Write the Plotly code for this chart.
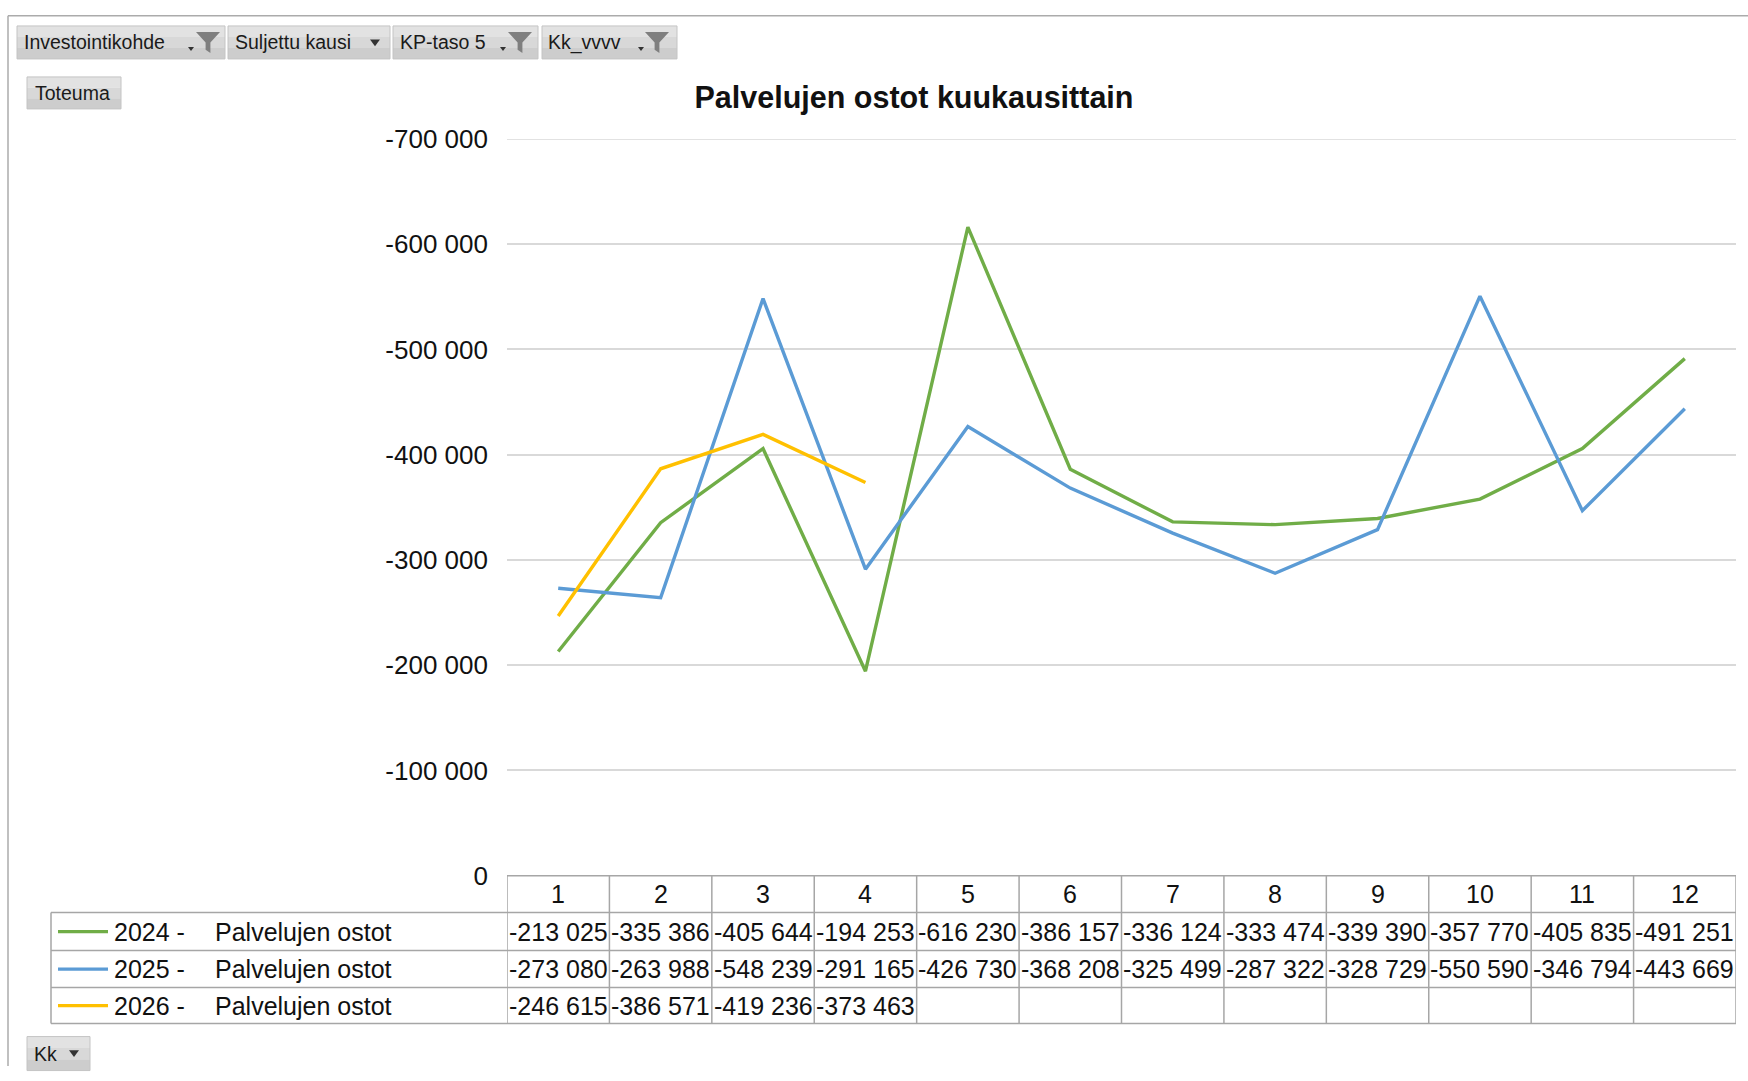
import plotly.graph_objects as go

# ---------------- data ----------------
months = [1, 2, 3, 4, 5, 6, 7, 8, 9, 10, 11, 12]
series_years = ["2024 -", "2025 -", "2026 -"]
series_label = "Palvelujen ostot"
vals_2024 = [-213025, -335386, -405644, -194253, -616230, -386157, -336124, -333474, -339390, -357770, -405835, -491251]
vals_2025 = [-273080, -263988, -548239, -291165, -426730, -368208, -325499, -287322, -328729, -550590, -346794, -443669]
vals_2026 = [-246615, -386571, -419236, -373463]
series_values = [vals_2024, vals_2025, vals_2026]
series_colors = ["#70AD47", "#5B9BD5", "#FFC000"]
y_tick_vals = [0, -100000, -200000, -300000, -400000, -500000, -600000, -700000]
y_tick_labels = ["0", "-100 000", "-200 000", "-300 000", "-400 000", "-500 000", "-600 000", "-700 000"]
title_text = "Palvelujen ostot kuukausittain"
filter_buttons = ["Investointikohde", "Suljettu kausi", "KP-taso 5", "Kk_vvvv"]

W, H = 1748, 1081
FONT = "Liberation Sans, Arial, sans-serif"
BTN_FONT = "Liberation Sans, Arial, sans-serif"

# vertical calibration of the rendered page (screen = K*y + C)
K_Y, C_Y = 0.9726, 14.05


def px(x):
    return x / W


def py(y):
    return 1 - ((y - C_Y) / K_Y) / H


PLOT_L, PLOT_R, PLOT_T, PLOT_B = 507, 1736, 138, 875
ROWS = [875, 912, 950, 987, 1023]
LEG_L = 51

fig = go.Figure()
for yr, vals, col in zip(series_years, series_values, series_colors):
    fig.add_trace(go.Scatter(
        x=months[:len(vals)], y=vals, mode="lines", name=f"{yr} {series_label}",
        line=dict(color=col, width=3.4), showlegend=False,
    ))

shapes = []
annotations = []

# top gridline at the axis maximum
shapes.append(dict(type="line", xref="paper", yref="y", x0=px(PLOT_L), x1=px(PLOT_R),
                   y0=y_tick_vals[-1], y1=y_tick_vals[-1], line=dict(color="#D9D9D9", width=1.5),
                   layer="below"))

# outer frame
top_frame = min(py(9), 0.9993)
shapes.append(dict(type="line", xref="paper", yref="paper", x0=px(8), x1=px(W), y0=top_frame, y1=top_frame,
                   line=dict(color="#ABABAB", width=1.5)))
shapes.append(dict(type="line", xref="paper", yref="paper", x0=px(8), x1=px(8), y0=top_frame, y1=0,
                   line=dict(color="#ABABAB", width=1.5)))

# data table grid
GRID = "#A6A6A6"
shapes.append(dict(type="line", xref="x", yref="paper", x0=months[0] - 0.5, x1=months[-1] + 0.5,
                   y0=py(ROWS[0]), y1=py(ROWS[0]), line=dict(color=GRID, width=1.5)))
for r in ROWS[1:]:
    shapes.append(dict(type="line", xref="paper", yref="paper", x0=px(LEG_L), x1=px(PLOT_R),
                       y0=py(r), y1=py(r), line=dict(color=GRID, width=1.5)))
for m in months + [months[-1] + 1]:
    shapes.append(dict(type="line", xref="x", yref="paper", x0=m - 0.5, x1=m - 0.5,
                       y0=py(ROWS[0]), y1=py(ROWS[-1]), line=dict(color=GRID, width=1.5)))
shapes.append(dict(type="line", xref="paper", yref="paper", x0=px(LEG_L), x1=px(LEG_L),
                   y0=py(ROWS[1]), y1=py(ROWS[-1]), line=dict(color=GRID, width=1.5)))

TXT = "#111111"
for m in months:
    annotations.append(dict(x=m, xref="x", y=py((ROWS[0] + ROWS[1]) / 2), yref="paper",
                            text=str(m), showarrow=False, xanchor="center", yanchor="middle",
                            font=dict(family=FONT, size=25, color=TXT)))
for i, (yr, vals, col) in enumerate(zip(series_years, series_values, series_colors)):
    yc = py((ROWS[i + 1] + ROWS[i + 2]) / 2)
    for m, v in zip(months, vals):
        annotations.append(dict(x=m, xref="x", y=yc, yref="paper",
                                text=f"{v:,}".replace(",", " "), showarrow=False,
                                xanchor="center", yanchor="middle",
                                font=dict(family=FONT, size=25, color=TXT)))
    shapes.append(dict(type="line", xref="paper", yref="paper", x0=px(58), x1=px(108), y0=yc, y1=yc,
                       line=dict(color=col, width=3.4)))
    annotations.append(dict(x=px(112), xref="paper", y=yc, yref="paper", text=yr, showarrow=False,
                            xanchor="left", yanchor="middle", font=dict(family=FONT, size=25, color=TXT)))
    annotations.append(dict(x=px(213), xref="paper", y=yc, yref="paper", text=series_label, showarrow=False,
                            xanchor="left", yanchor="middle", font=dict(family=FONT, size=25, color=TXT)))


def button(x0, x1, y0, y1, text, tx, size=19.5):
    # light-to-dark vertical shading
    shades = ["#E2E2E2", "#D8D8D8", "#CDCDCD"]
    n = len(shades)
    for k, c in enumerate(shades):
        ya = y0 + (y1 - y0) * k / n
        yb = y0 + (y1 - y0) * (k + 1) / n
        shapes.append(dict(type="rect", xref="paper", yref="paper", x0=px(x0), x1=px(x1), y0=py(ya), y1=py(yb),
                           fillcolor=c, line=dict(width=0), layer="below"))
    shapes.append(dict(type="rect", xref="paper", yref="paper", x0=px(x0), x1=px(x1), y0=py(y0), y1=py(y1),
                       fillcolor="rgba(0,0,0,0)", line=dict(color="#C4C4C4", width=1), layer="below"))
    annotations.append(dict(x=px(tx), xref="paper", y=py((y0 + y1) / 2), yref="paper", text=text,
                            showarrow=False, xanchor="left", yanchor="middle",
                            font=dict(family=BTN_FONT, size=size, color="#1A1A1A")))


def funnel(x0, y0, w, h):
    pts = [(x0, y0), (x0 + w, y0), (x0 + 0.6 * w, y0 + 0.5 * h), (x0 + 0.6 * w, y0 + h),
           (x0 + 0.4 * w, y0 + 0.85 * h), (x0 + 0.4 * w, y0 + 0.5 * h)]
    path = "M " + " L ".join(f"{px(a):.5f},{py(b):.5f}" for a, b in pts) + " Z"
    shapes.append(dict(type="path", xref="paper", yref="paper", path=path,
                       fillcolor="#7F7F7F", line=dict(width=0)))


def tri(xc, yc, w):
    pts = [(xc - w / 2, yc - w / 3), (xc + w / 2, yc - w / 3), (xc, yc + w / 3)]
    path = "M " + " L ".join(f"{px(a):.5f},{py(b):.5f}" for a, b in pts) + " Z"
    shapes.append(dict(type="path", xref="paper", yref="paper", path=path,
                       fillcolor="#333333", line=dict(width=0)))


btn_geom = [(17, 225, 22), (228, 390, 233), (393, 538, 398), (542, 677, 546)]
for (bx0, bx1, tx), label in zip(btn_geom, filter_buttons):
    button(bx0, bx1, 25, 58, label, tx)
funnel(196, 31, 24, 21)
tri(191, 48, 6)
tri(375, 42, 10)
funnel(508, 31, 24, 21)
tri(503, 48, 6)
funnel(645, 31, 24, 21)
tri(641, 48, 6)

button(27, 121, 76, 108, "Toteuma", 33)
button(27, 90, 1036, 1070, "Kk", 32)
tri(74, 1053, 10)

fig.update_layout(
    width=W, height=H, autosize=False,
    margin=dict(l=0, r=0, t=0, b=0),
    paper_bgcolor="white", plot_bgcolor="white",
    title=dict(text=f"<b>{title_text}</b>", x=px(914), y=py(96), xref="paper", yref="paper",
               xanchor="center", yanchor="middle", font=dict(family=FONT, size=30.5, color="#111111")),
    xaxis=dict(domain=[px(PLOT_L), px(PLOT_R)], range=[months[0] - 0.5, months[-1] + 0.5],
               showticklabels=False, showgrid=False, zeroline=False, showline=False, ticks=""),
    yaxis=dict(domain=[py(PLOT_B), py(PLOT_T)], range=[0, -700000],
               tickvals=y_tick_vals, ticktext=y_tick_labels, ticks="", ticklabelstandoff=18,
               showgrid=True, gridcolor="#D9D9D9", gridwidth=1.5, zeroline=False, showline=False,
               tickfont=dict(family=FONT, size=26, color="#111111")),
    shapes=shapes,
    annotations=annotations,
)

fig.write_html(
    "out.html",
    config={"responsive": False, "displayModeBar": False},
    post_script="document.documentElement.style.margin='0';document.body.style.margin='0';"
                "document.documentElement.style.overflow='hidden';document.body.style.overflow='hidden';",
)
